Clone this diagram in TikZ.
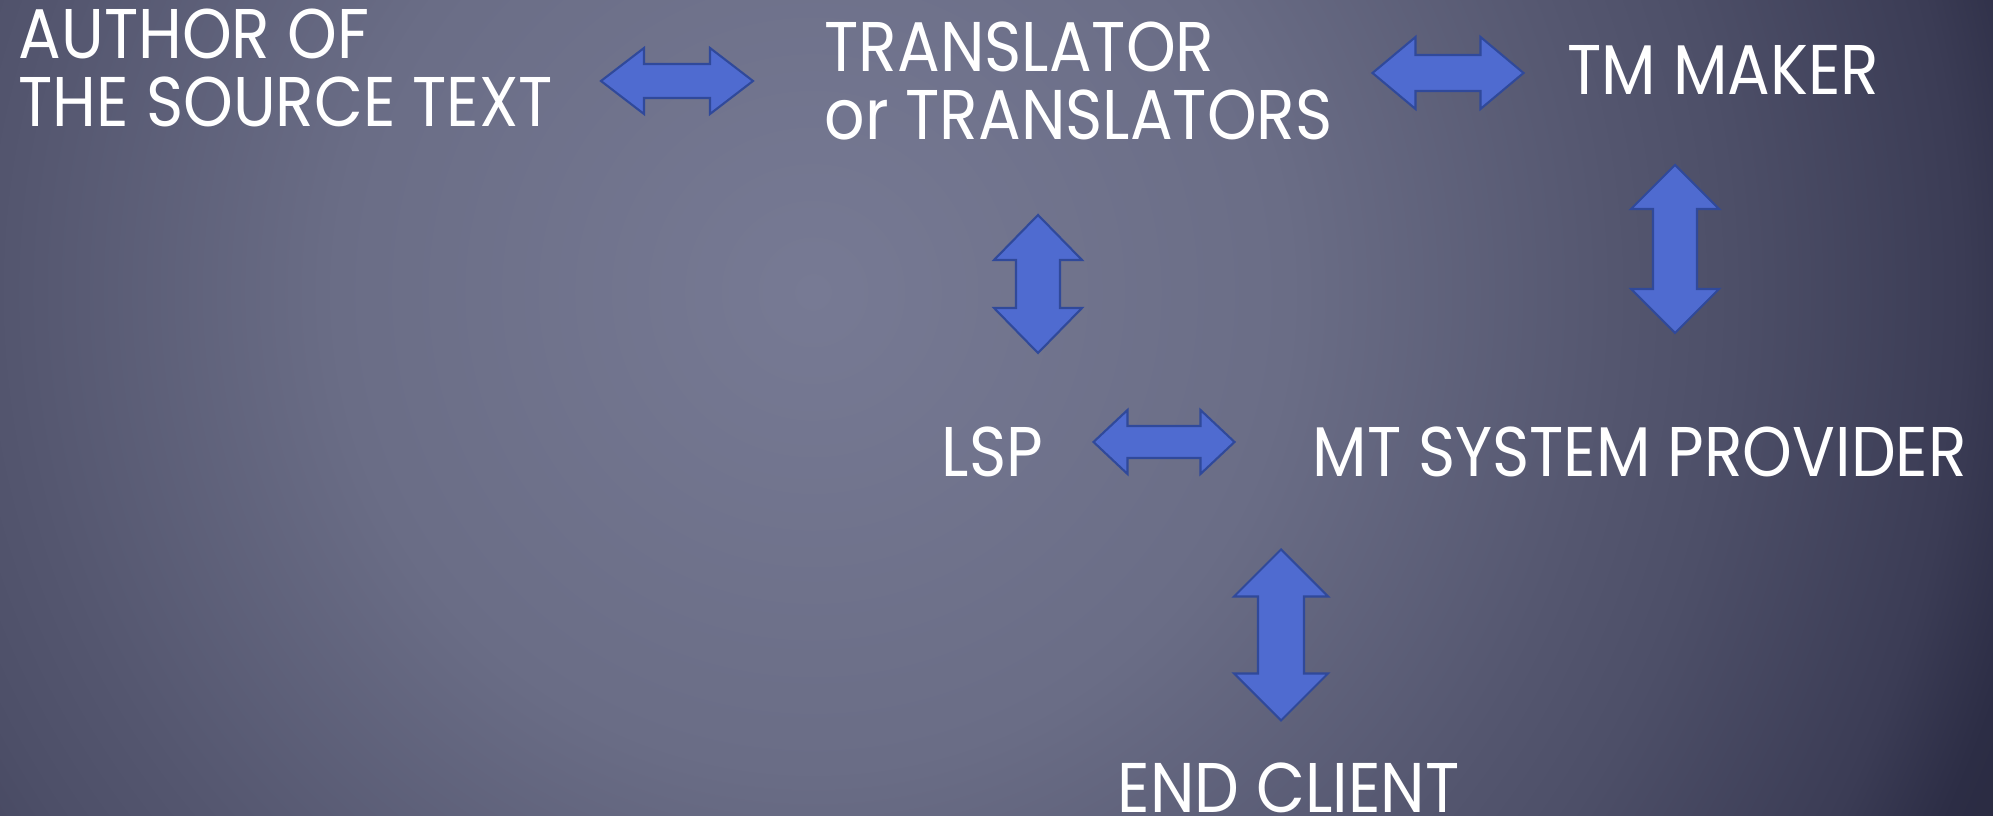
\documentclass[tikz,border=0pt]{standalone}
\usepackage{fontspec}
\setmainfont{Poppins}[FakeStretch=0.9]
\usetikzlibrary{positioning}

\definecolor{bgA}{HTML}{777A94}
\definecolor{bgB}{HTML}{6A6D86}
\definecolor{bgC}{HTML}{54566F}
\definecolor{bgD}{HTML}{4D4F68}
\definecolor{bgE}{HTML}{3B3C55}
\definecolor{bgF}{HTML}{2C2D45}
\definecolor{bgG}{HTML}{26273A}
\definecolor{arrfill}{HTML}{4F6BD0}
\definecolor{arredge}{HTML}{30499A}
\pgfdeclareradialshading{slidebg}{\pgfpoint{0bp}{0bp}}{color(0bp)=(bgA); color(8.5bp)=(bgB); color(14.3bp)=(bgC); color(16.4bp)=(bgD); color(20.5bp)=(bgE); color(22.3bp)=(bgF); color(25bp)=(bgG); color(50bp)=(bgG)}

\begin{document}
\begin{tikzpicture}[x=0.01cm,y=-0.01cm,
    lbl/.style={text=white,font=\fontsize{20}{19.6}\selectfont,inner sep=0,align=left,anchor=base west},
    pics/dbl/.style n args={4}{code={
        \filldraw[fill=arrfill,draw=arredge,line width=0.6pt,line join=miter]
            ({-#1/2},0) -- ({-#1/2+#2},{#3}) -- ({-#1/2+#2},{#4}) -- ({#1/2-#2},{#4}) -- ({#1/2-#2},{#3})
            -- ({#1/2},0) -- ({#1/2-#2},{-#3}) -- ({#1/2-#2},{-#4}) -- ({-#1/2+#2},{-#4}) -- ({-#1/2+#2},{-#3}) -- cycle;}}]
    \useasboundingbox (0,0) rectangle (1993,816);
    \fill[bgG] (0,0) rectangle (1993,816);
    \begin{scope}
        \clip (0,0) rectangle (1993,816);
        \shade[shading=slidebg] (813,292) circle (14cm);
    \end{scope}

    % labels (two-line ones sit on their last baseline)
    \node[lbl] (author) at (18,127) {AUTHOR OF\\THE SOURCE TEXT};
    \node[lbl] (translator) at (824,140) {TRANSLATOR\\or TRANSLATORS};
    \node[lbl] (tmmaker) at (1567,95) {TM MAKER};
    \node[lbl] (lsp) at (941,477) {LSP};
    \node[lbl] (mtprov) at (1312,477) {MT SYSTEM PROVIDER};
    \node[lbl] (client) at (1117,813) {END CLIENT};

    % double arrows
    \pic at (677,81) {dbl={152}{43}{33}{17}};
    \pic at (1448,73) {dbl={151}{43}{36}{18}};
    \pic at (1164,442) {dbl={141}{34}{32}{16}};
    \pic[rotate=90] at (1038,284) {dbl={138}{45}{44}{22}};
    \pic[rotate=90] at (1675,249) {dbl={168}{44}{44}{22}};
    \pic[rotate=90] at (1281,635) {dbl={171}{47}{47}{23}};
\end{tikzpicture}
\end{document}
